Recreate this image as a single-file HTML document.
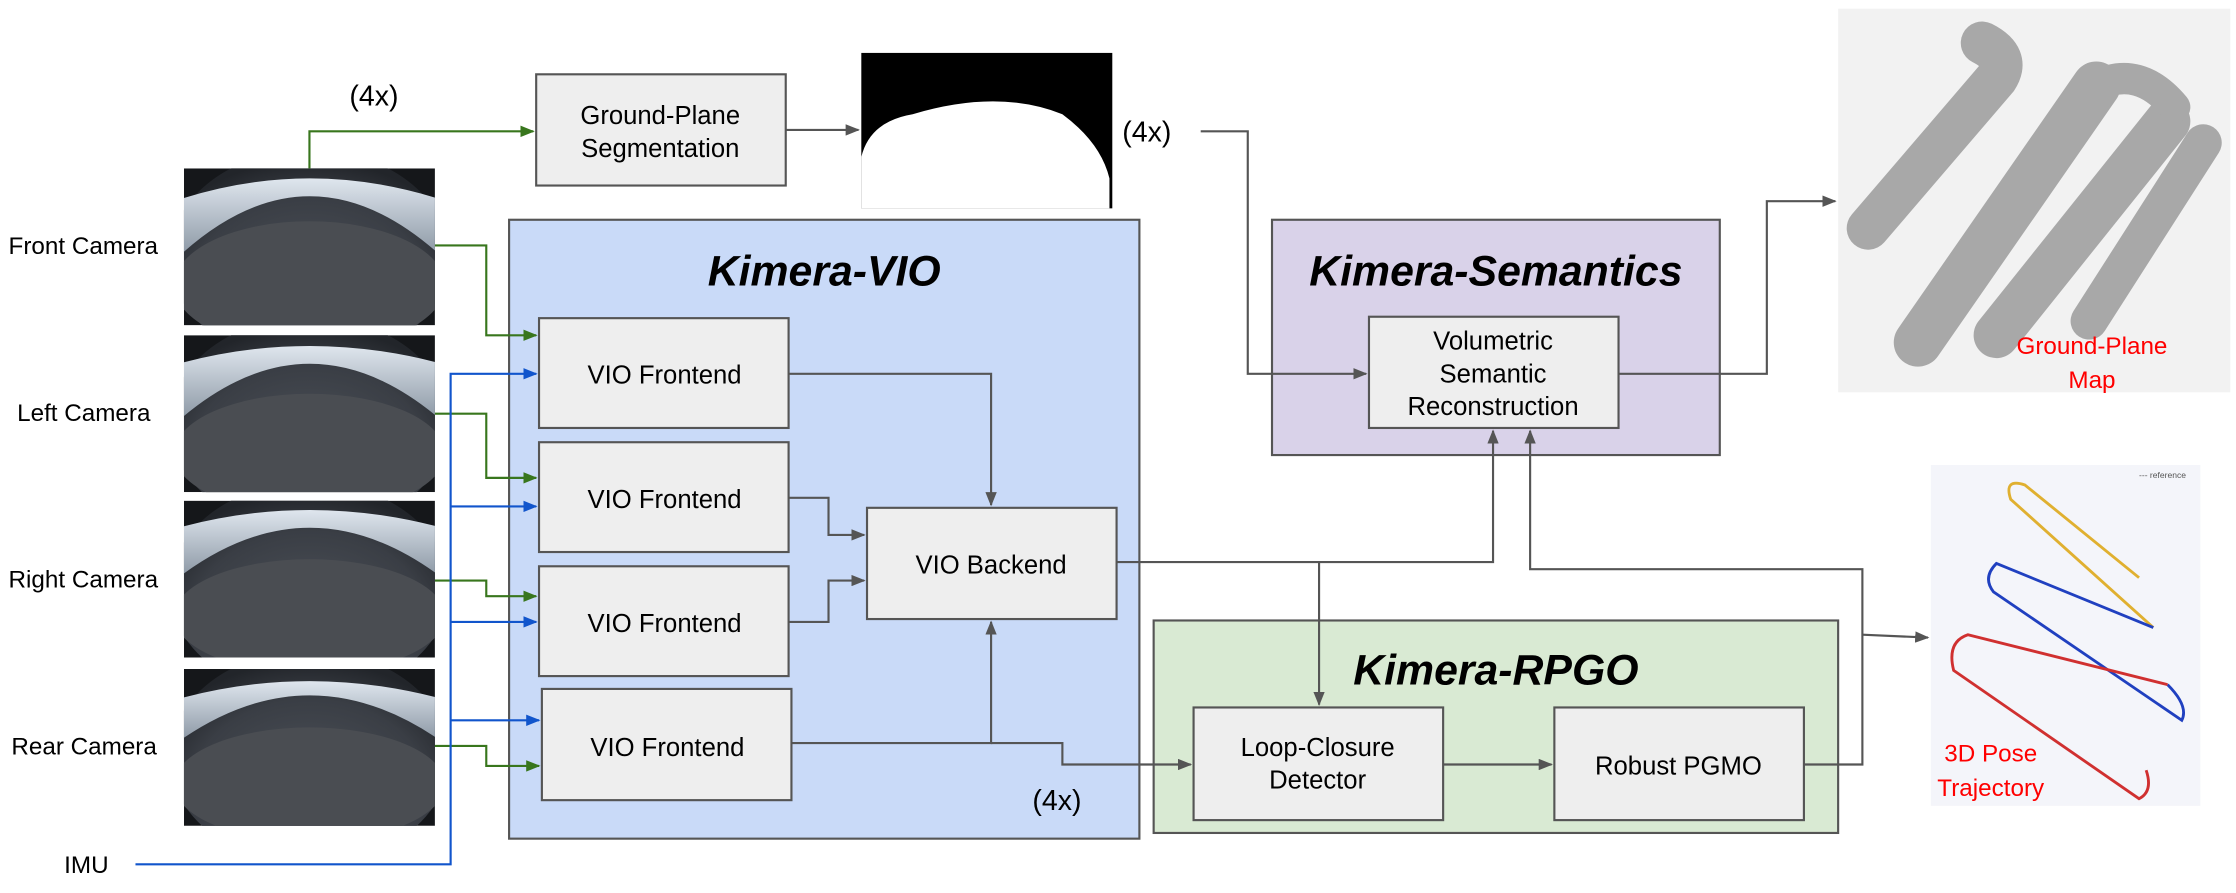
<!DOCTYPE html>
<html><head><meta charset="utf-8"><style>
html,body{margin:0;padding:0;background:#fff;}
svg{display:block;}
text{font-family:"Liberation Sans",sans-serif;}
</style></head><body>
<svg width="2236" height="893" viewBox="0 0 1568 626" xmlns="http://www.w3.org/2000/svg">
<defs>
<marker id="ag" markerWidth="10" markerHeight="8" refX="9" refY="4" orient="auto" markerUnits="userSpaceOnUse"><path d="M0,0 L10,4 L0,8 z" fill="#38761d"/></marker>
<marker id="ab" markerWidth="10" markerHeight="8" refX="9" refY="4" orient="auto" markerUnits="userSpaceOnUse"><path d="M0,0 L10,4 L0,8 z" fill="#1155cc"/></marker>
<marker id="ak" markerWidth="10" markerHeight="8" refX="9" refY="4" orient="auto" markerUnits="userSpaceOnUse"><path d="M0,0 L10,4 L0,8 z" fill="#555"/></marker>
<radialGradient id="fish" cx="50%" cy="65%" r="60%"><stop offset="0" stop-color="#4e535b"/><stop offset="0.7" stop-color="#3a3e45"/><stop offset="1" stop-color="#22252a"/></radialGradient>
<linearGradient id="sky" x1="0" y1="0" x2="0" y2="1"><stop offset="0" stop-color="#dfe6ee"/><stop offset="1" stop-color="#8a96a3"/></linearGradient>
<clipPath id="c1"><rect x="129" y="118" width="176" height="110"/></clipPath>
<clipPath id="c2"><rect x="129" y="235" width="176" height="110"/></clipPath>
<clipPath id="c3"><rect x="129" y="351" width="176" height="110"/></clipPath>
<clipPath id="c4"><rect x="129" y="469" width="176" height="110"/></clipPath>
</defs>

<!-- cameras -->
<g clip-path="url(#c1)"><rect x="129" y="118" width="176" height="110" fill="#15171a"/><ellipse cx="217" cy="180" rx="98" ry="75" fill="url(#fish)"/><path d="M125,180 Q217,95 310,180 L310,140 Q217,110 125,140z" fill="url(#sky)"/><ellipse cx="217" cy="200" rx="95" ry="45" fill="#4a4d52"/></g>
<g clip-path="url(#c2)"><rect x="129" y="235" width="176" height="110" fill="#15171a"/><ellipse cx="217" cy="297" rx="98" ry="75" fill="url(#fish)"/><path d="M125,295 Q217,215 310,295 L310,255 Q217,230 125,255z" fill="url(#sky)"/><ellipse cx="217" cy="318" rx="95" ry="42" fill="#4a4d52"/></g>
<g clip-path="url(#c3)"><rect x="129" y="351" width="176" height="110" fill="#15171a"/><ellipse cx="217" cy="413" rx="98" ry="75" fill="url(#fish)"/><path d="M125,405 Q217,335 310,405 L310,370 Q217,345 125,370z" fill="url(#sky)"/><ellipse cx="217" cy="432" rx="95" ry="40" fill="#4a4d52"/></g>
<g clip-path="url(#c4)"><rect x="129" y="469" width="176" height="110" fill="#15171a"/><ellipse cx="217" cy="531" rx="98" ry="75" fill="url(#fish)"/><path d="M125,520 Q217,455 310,520 L310,490 Q217,465 125,490z" fill="url(#sky)"/><ellipse cx="217" cy="550" rx="95" ry="40" fill="#4a4d52"/></g>

<g font-size="17" fill="#000">
<text x="6" y="178">Front Camera</text>
<text x="12" y="295">Left Camera</text>
<text x="6" y="412">Right Camera</text>
<text x="8" y="529">Rear Camera</text>
<text x="45" y="612">IMU</text>
</g>

<!-- main boxes -->
<rect x="357" y="154" width="442" height="434" fill="#c9daf8" stroke="#555" stroke-width="1.5"/>
<text x="578" y="200" font-size="30" font-weight="bold" font-style="italic" text-anchor="middle">Kimera-VIO</text>
<rect x="892" y="154" width="314" height="165" fill="#d9d2e9" stroke="#555" stroke-width="1.5"/>
<text x="1049" y="200" font-size="30" font-weight="bold" font-style="italic" text-anchor="middle">Kimera-Semantics</text>
<rect x="809" y="435" width="480" height="149" fill="#d9ead3" stroke="#555" stroke-width="1.5"/>
<text x="1049" y="480" font-size="30" font-weight="bold" font-style="italic" text-anchor="middle">Kimera-RPGO</text>

<g fill="#eeeeee" stroke="#555" stroke-width="1.5">
<rect x="376" y="52" width="175" height="78"/>
<rect x="378" y="223" width="175" height="77"/>
<rect x="378" y="310" width="175" height="77"/>
<rect x="378" y="397" width="175" height="77"/>
<rect x="380" y="483" width="175" height="78"/>
<rect x="608" y="356" width="175" height="78"/>
<rect x="960" y="222" width="175" height="78"/>
<rect x="837" y="496" width="175" height="79"/>
<rect x="1090" y="496" width="175" height="79"/>
</g>
<g font-size="18" text-anchor="middle" fill="#000">
<text x="463" y="87">Ground-Plane</text><text x="463" y="110">Segmentation</text>
<text x="466" y="269">VIO Frontend</text>
<text x="466" y="356">VIO Frontend</text>
<text x="466" y="443">VIO Frontend</text>
<text x="468" y="530">VIO Frontend</text>
<text x="695" y="402">VIO Backend</text>
<text x="1047" y="245">Volumetric</text><text x="1047" y="268">Semantic</text><text x="1047" y="291">Reconstruction</text>
<text x="924" y="530">Loop-Closure</text><text x="924" y="553">Detector</text>
<text x="1177" y="543">Robust PGMO</text>
</g>
<g font-size="20" fill="#000">
<text x="245" y="74">(4x)</text>
<text x="787" y="99">(4x)</text>
<text x="724" y="568">(4x)</text>
</g>

<!-- segmentation image -->
<rect x="604" y="37" width="176" height="109" fill="#000"/>
<path d="M604,110 Q610,85 640,80 Q700,62 745,80 Q772,100 778,125 L778,146 L604,146z" fill="#fff"/>

<!-- map image -->
<rect x="1289" y="6" width="275" height="269" fill="#f2f2f2"/>
<g stroke="#a8a8a8" stroke-linecap="round" fill="none">
<path d="M1310,160 L1400,55 Q1410,40 1390,30" stroke-width="30"/>
<path d="M1345,240 L1470,60" stroke-width="34"/>
<path d="M1400,235 L1520,85" stroke-width="32"/>
<path d="M1465,225 L1545,100" stroke-width="26"/>
<path d="M1470,60 Q1500,45 1525,75" stroke-width="22"/>
</g>
<g font-size="17" fill="#ff0000" text-anchor="middle">
<text x="1467" y="248">Ground-Plane</text><text x="1467" y="272">Map</text>
</g>

<!-- trajectory -->
<rect x="1354" y="326" width="189" height="239" fill="#f4f5fa"/>
<g fill="none" stroke-width="2">
<path d="M1500,405 L1420,340 Q1405,335 1410,350 L1510,440" stroke="#e0b030"/>
<path d="M1510,440 L1400,395 Q1390,405 1398,415 L1530,505 Q1535,495 1520,480" stroke="#2040c0"/>
<path d="M1520,480 L1380,445 Q1365,450 1370,470 L1500,560 Q1510,555 1505,540" stroke="#d03030"/>
</g>
<text x="1500" y="335" font-size="6" fill="#555">--- reference</text>
<g font-size="17" fill="#ff0000" text-anchor="middle">
<text x="1396" y="534">3D Pose</text><text x="1396" y="558">Trajectory</text>
</g>

<!-- green connectors -->
<g stroke="#38761d" stroke-width="1.5" fill="none">
<path d="M217,118 L217,92 L374,92" marker-end="url(#ag)"/>
<path d="M305,172 L341,172 L341,235 L376,235" marker-end="url(#ag)"/>
<path d="M305,290 L341,290 L341,335 L376,335" marker-end="url(#ag)"/>
<path d="M305,407 L341,407 L341,418 L376,418" marker-end="url(#ag)"/>
<path d="M305,523 L341,523 L341,537 L378,537" marker-end="url(#ag)"/>
</g>
<!-- blue connectors -->
<g stroke="#1155cc" stroke-width="1.5" fill="none">
<path d="M95,606 L316,606 L316,262 L376,262" marker-end="url(#ab)"/>
<path d="M316,355 L376,355" marker-end="url(#ab)"/>
<path d="M316,436 L376,436" marker-end="url(#ab)"/>
<path d="M316,505 L378,505" marker-end="url(#ab)"/>
</g>
<!-- gray connectors -->
<g stroke="#555" stroke-width="1.5" fill="none">
<path d="M551,91 L602,91" marker-end="url(#ak)"/>
<path d="M842,92 L875,92 L875,262 L958,262" marker-end="url(#ak)"/>
<path d="M553,262 L695,262 L695,354" marker-end="url(#ak)"/>
<path d="M553,349 L581,349 L581,375 L606,375" marker-end="url(#ak)"/>
<path d="M553,436 L581,436 L581,407 L606,407" marker-end="url(#ak)"/>
<path d="M555,521 L695,521 L695,436" marker-end="url(#ak)"/>
<path d="M695,521 L745,521 L745,536 L835,536" marker-end="url(#ak)"/>
<path d="M783,394 L925,394 L925,494" marker-end="url(#ak)"/>
<path d="M925,394 L1047,394 L1047,302" marker-end="url(#ak)"/>
<path d="M1012,536 L1088,536" marker-end="url(#ak)"/>
<path d="M1265,536 L1306,536 L1306,399 L1073,399 L1073,302" marker-end="url(#ak)"/>
<path d="M1306,445 L1352,447" marker-end="url(#ak)"/>
<path d="M1135,262 L1239,262 L1239,141 L1287,141" marker-end="url(#ak)"/>
</g>
</svg>
</body></html>
